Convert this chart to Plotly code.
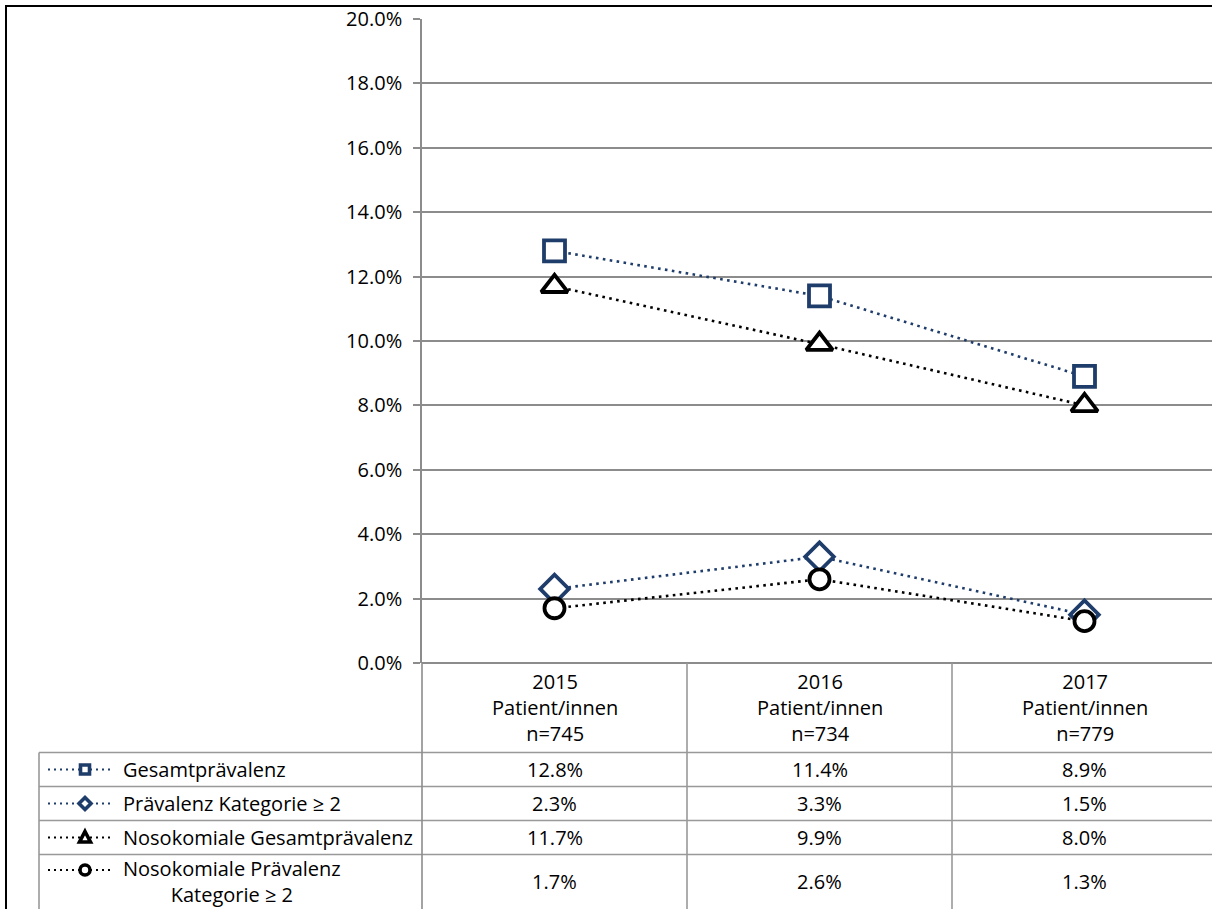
import plotly.graph_objects as go

# ---------------- data ----------------
years = ["2015", "2016", "2017"]
patients = [745, 734, 779]
series_names = [
    "Gesamtprävalenz",
    "Prävalenz Kategorie ≥ 2",
    "Nosokomiale Gesamtprävalenz",
    "Nosokomiale Prävalenz<br>Kategorie ≥ 2",
]
gesamt = [12.8, 11.4, 8.9]
kat2 = [2.3, 3.3, 1.5]
noso_gesamt = [11.7, 9.9, 8.0]
noso_kat2 = [1.7, 2.6, 1.3]
y_tick_values = [0, 2, 4, 6, 8, 10, 12, 14, 16, 18, 20]

# ---------------- layout constants ----------------
W, H = 1212, 909
L, R, T, B = 422, 0, 19, 246
PW, PH = W - L - R, H - T - B
FONT = "Open Sans"
FS = 20
NAVY = "#1F3D6B"
BLACK = "#000000"
GRID = "#8C8C8C"
TABLE = "#999999"


def px(x):
    return (x - L) / PW


def py(y):
    return (H - B - y) / PH


series = [
    (series_names[0], gesamt, "square", NAVY, 21),
    (series_names[1], kat2, "diamond", NAVY, 22),
    (series_names[2], noso_gesamt, "triangle-up", BLACK, 23),
    (series_names[3], noso_kat2, "circle", BLACK, 20),
]

# pixel-shape paths for the small keys in the data table (y axis points up)
key_paths = {
    "square": "M-4.5,-4.5 L4.5,-4.5 L4.5,4.5 L-4.5,4.5 Z",
    "diamond": "M0,-6 L6,0 L0,6 L-6,0 Z",
    "triangle-up": "M0,6 L5.5,-4.5 L-5.5,-4.5 Z",
}

fig = go.Figure()

x_idx = list(range(len(years)))
for name, vals, sym, col, size in series:
    fig.add_trace(go.Scatter(
        x=x_idx, y=vals, mode="lines+markers", name=name.replace("<br>", " "),
        line=dict(color=col, width=2.6, dash="2.6px,4.4px"),
        marker=dict(symbol=sym, size=size, color="white", line=dict(color=col, width=3.8)),
        cliponaxis=False, showlegend=False,
    ))

# data table
row_top = [752.5, 786.5, 820.5, 854.5]
row_center = [769.5, 803.5, 837.5, 882]
key_y = [769.5, 803.5, 837.5, 870]
label_y = [769.5, 803.5, 837.5, 882]
key_x = 85
for i, (name, vals, sym, col, size) in enumerate(series):
    fig.add_shape(type="line", xref="paper", yref="paper",
                  x0=px(48), x1=px(114), y0=py(key_y[i]), y1=py(key_y[i]),
                  line=dict(color=col, width=2.2, dash="2px,4px"))
    if sym == "circle":
        fig.add_shape(type="circle", xref="paper", yref="paper",
                      xsizemode="pixel", ysizemode="pixel",
                      xanchor=px(key_x), yanchor=py(key_y[i]),
                      x0=-5, x1=5, y0=-5, y1=5, fillcolor="white",
                      line=dict(color=col, width=3.6))
    else:
        fig.add_shape(type="path", xref="paper", yref="paper",
                      xsizemode="pixel", ysizemode="pixel",
                      xanchor=px(key_x), yanchor=py(key_y[i]),
                      path=key_paths[sym], fillcolor="white",
                      line=dict(color=col, width=3.6))
    fig.add_annotation(xref="paper", yref="paper", x=px(121), y=py(label_y[i]),
                       text=name, showarrow=False, xanchor="left", yanchor="middle",
                       align="center", font=dict(family=FONT, size=FS, color="black"))
    for j, v in enumerate(vals):
        fig.add_annotation(xref="x", yref="paper", x=j, y=py(row_center[i]),
                           text=f"{v:.1f}%", showarrow=False, xanchor="center",
                           yanchor="middle", font=dict(family=FONT, size=FS, color="black"))

# category header texts
for j, yr in enumerate(years):
    fig.add_annotation(xref="x", yref="paper", x=j, y=py(707.5),
                       text=f"{yr}<br>Patient/innen<br>n={patients[j]}",
                       showarrow=False, xanchor="center", yanchor="middle", align="center",
                       font=dict(family=FONT, size=FS, color="black"))

# table grid lines
for yy in row_top:
    fig.add_shape(type="line", xref="paper", yref="paper", x0=px(39), x1=1.0,
                  y0=py(yy), y1=py(yy), line=dict(color=TABLE, width=1.6))
fig.add_shape(type="line", xref="paper", yref="paper", x0=px(39), x1=px(39),
              y0=py(row_top[0]), y1=py(H), line=dict(color=TABLE, width=1.6))
fig.add_shape(type="line", xref="paper", yref="paper", x0=0, x1=0,
              y0=0, y1=py(H), line=dict(color=GRID, width=1.6))
for b in [0.5, 1.5]:
    fig.add_shape(type="line", xref="x", yref="paper", x0=b, x1=b,
                  y0=0, y1=py(H), line=dict(color=TABLE, width=1.6))

# outer chart border (top-left)
fig.add_shape(type="line", xref="paper", yref="paper", x0=px(6), x1=px(6),
              y0=py(5), y1=py(H), line=dict(color="black", width=2))
fig.add_shape(type="line", xref="paper", yref="paper", x0=px(5), x1=px(W),
              y0=py(6), y1=py(6), line=dict(color="black", width=2))

fig.update_layout(
    width=W, height=H,
    margin=dict(l=L, r=R, t=T, b=B, pad=0),
    paper_bgcolor="white", plot_bgcolor="white",
    font=dict(family=FONT, size=FS, color="black"),
    xaxis=dict(range=[-0.5, -0.5 + 3 * PW / 795], showgrid=False, zeroline=False,
               showline=False, showticklabels=False, ticks=""),
    yaxis=dict(range=[0, 20], tickvals=y_tick_values,
               ticktext=[f"{v:.1f}%" for v in y_tick_values],
               showgrid=True, gridcolor=GRID, gridwidth=1.6,
               zeroline=True, zerolinecolor=GRID, zerolinewidth=1.6,
               showline=True, linecolor=GRID, linewidth=1.6,
               ticks="outside", ticklen=7, tickwidth=1.6, tickcolor=GRID,
               ticklabelstandoff=7,
               tickfont=dict(family=FONT, size=FS, color="black")),
)

fig.write_html("out.html")
